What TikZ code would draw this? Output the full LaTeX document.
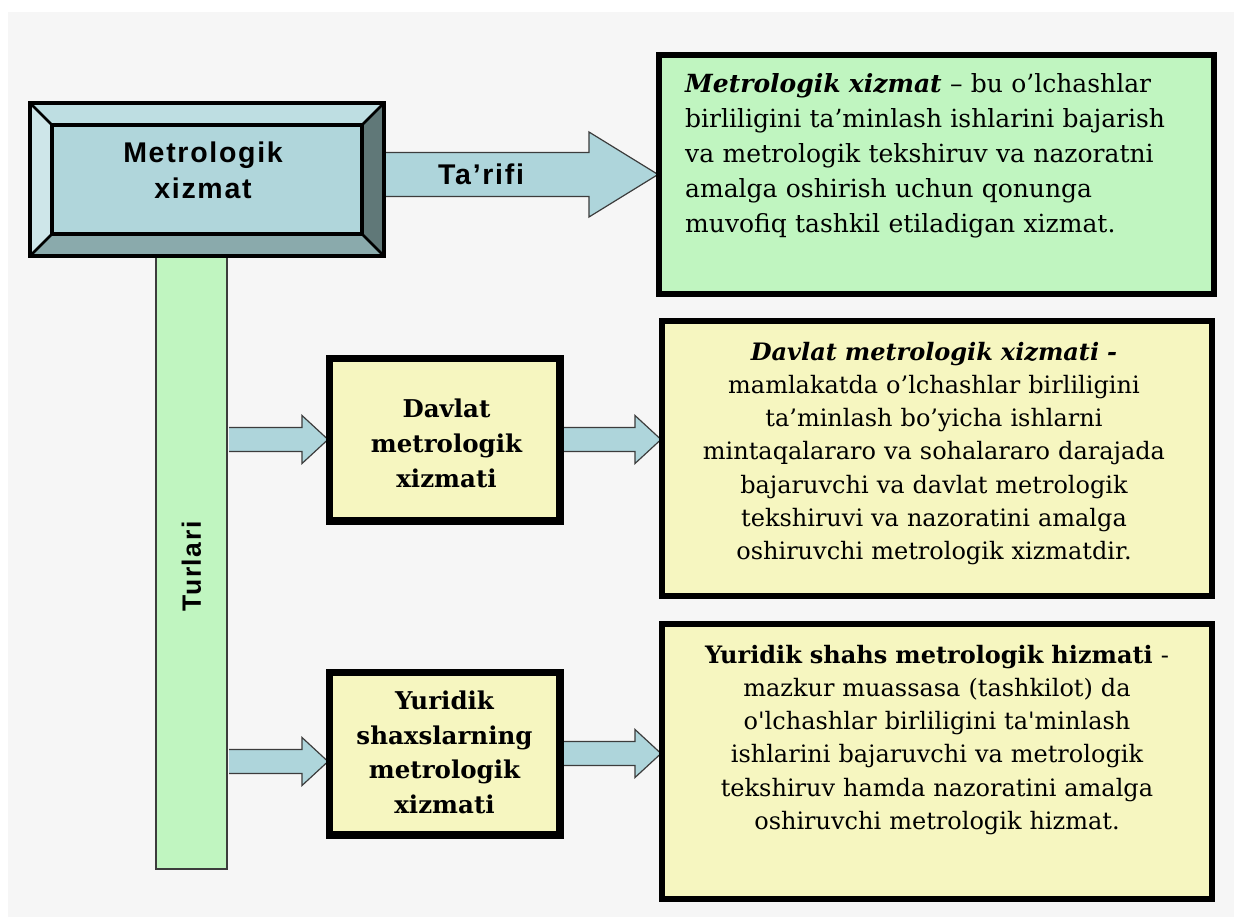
\documentclass[tikz,border=0pt]{standalone}
\usepackage{fontspec}
\newfontfamily\deffont{DejaVu Serif}
\newfontfamily\lsans[LetterSpace=6]{Liberation Sans}
\usetikzlibrary{calc}
\definecolor{bg}{RGB}{246,246,246}
\definecolor{facec}{RGB}{176,214,219}
\definecolor{bevtop}{RGB}{190,222,226}
\definecolor{bevleft}{RGB}{206,230,233}
\definecolor{bevright}{RGB}{96,120,120}
\definecolor{bevbot}{RGB}{138,170,172}
\definecolor{greenf}{RGB}{192,245,192}
\definecolor{yellowf}{RGB}{246,246,192}
\definecolor{arrowf}{RGB}{174,213,219}
\definecolor{edgec}{RGB}{60,60,60}
\tikzset{
  bigbox/.style={draw=black, line width=4, rectangle, inner sep=0},
  smallbox/.style={draw=black, line width=5, rectangle, inner sep=0, fill=yellowf, minimum width=228, minimum height=160},
  blockarr/.style={draw=edgec, line width=1.2, fill=arrowf, line join=miter},
  deftext/.style={font=\deffont\fontsize{24}{33.3}\selectfont, inner sep=0},
  boldtext/.style={font=\deffont\bfseries\fontsize{24.5}{35}\selectfont, inner sep=0, align=center, text width=220},
  sanstext/.style={font=\lsans\bfseries\fontsize{28.5}{36}\selectfont, inner sep=0}
}
\begin{document}
\begin{tikzpicture}[x=1pt,y=-1pt]
\useasboundingbox (0,0) rectangle (1234,917);
\fill[white] (0,0) rectangle (1234,917);
\fill[bg] (8,12) rectangle (1234,917);

% nodes (boxes)
\node[rectangle, inner sep=0, minimum width=354, minimum height=153] (main) at (207,179.5) {};
\node[draw=edgec, line width=2, fill=greenf, rectangle, inner sep=0, minimum width=71, minimum height=613] (turlari) at (191.5,562.5) {};
\node[bigbox, fill=greenf, minimum width=553, minimum height=237] (def1) at (936.5,174.5) {};
\node[bigbox, fill=yellowf, minimum width=548, minimum height=273] (def2) at (937,458.5) {};
\node[bigbox, fill=yellowf, minimum width=548, minimum height=273] (def3) at (937,761.5) {};
\node[smallbox] (davlat) at (444.5,439.5) {};
\node[smallbox] (yuridik) at (444.5,753.5) {};

% arrows
\coordinate (ta0) at (main.east |- def1.west);
\draw[blockarr] ($(ta0)+(0,-22)$) -- ($(def1.west)+(-69,-22)$) -- ($(def1.west)+(-69,-42.5)$) -- (def1.west)
  -- ($(def1.west)+(-69,42.5)$) -- ($(def1.west)+(-69,22)$) -- ($(ta0)+(0,22)$);
\coordinate (d0) at (turlari.east |- davlat.west);
\draw[blockarr] ($(d0)+(1,-12)$) -- ($(davlat.west)+(-26,-12)$) -- ($(davlat.west)+(-26,-24)$) -- (davlat.west)
  -- ($(davlat.west)+(-26,24)$) -- ($(davlat.west)+(-26,12)$) -- ($(d0)+(1,12)$);
\coordinate (d1) at (def2.west |- davlat.east);
\draw[blockarr] ($(davlat.east)+(0,-12)$) -- ($(d1)+(-26,-12)$) -- ($(d1)+(-26,-24)$) -- (d1)
  -- ($(d1)+(-26,24)$) -- ($(d1)+(-26,12)$) -- ($(davlat.east)+(0,12)$);
\coordinate (y0) at ($(turlari.east |- yuridik.west)+(1,8)$);
\coordinate (y0t) at ($(yuridik.west)+(0,8)$);
\draw[blockarr] ($(y0)+(0,-12)$) -- ($(y0t)+(-26,-12)$) -- ($(y0t)+(-26,-24)$) -- (y0t)
  -- ($(y0t)+(-26,24)$) -- ($(y0t)+(-26,12)$) -- ($(y0)+(0,12)$);
\coordinate (y1) at (def3.west |- yuridik.east);
\draw[blockarr] ($(yuridik.east)+(0,-12)$) -- ($(y1)+(-26,-12)$) -- ($(y1)+(-26,-24)$) -- (y1)
  -- ($(y1)+(-26,24)$) -- ($(y1)+(-26,12)$) -- ($(yuridik.east)+(0,12)$);

% redraw box borders over arrow ends
\draw[black, line width=4] (def1.north west) rectangle (def1.south east);
\draw[black, line width=4] (def2.north west) rectangle (def2.south east);
\draw[black, line width=4] (def3.north west) rectangle (def3.south east);
\draw[black, line width=5] (davlat.north west) rectangle (davlat.south east);
\draw[black, line width=5] (yuridik.north west) rectangle (yuridik.south east);

% bevelled main box
\path (main.north west) ++(22,22) coordinate (iNW);
\path (main.north east) ++(-22,22) coordinate (iNE);
\path (main.south west) ++(22,-22) coordinate (iSW);
\path (main.south east) ++(-22,-22) coordinate (iSE);
\fill[bevtop] (main.north west) -- (main.north east) -- (iNE) -- (iNW) -- cycle;
\fill[bevright] (main.north east) -- (main.south east) -- (iSE) -- (iNE) -- cycle;
\fill[bevbot] (main.south east) -- (main.south west) -- (iSW) -- (iSE) -- cycle;
\fill[bevleft] (main.south west) -- (main.north west) -- (iNW) -- (iSW) -- cycle;
\draw[line width=2.5] (main.north west) -- (iNW) (main.north east) -- (iNE)
  (main.south west) -- (iSW) (main.south east) -- (iSE);
\draw[line width=3.5, fill=facec] (iNW) rectangle (iSE);
\draw[line width=4] (main.north west) rectangle (main.south east);

% texts
\node[sanstext, align=center, text width=300, anchor=base] (maintxt) at ($(main.north)+(-4,60)$) {Metrologik\\xizmat};
\node[sanstext] (tarifi) at ($(ta0)!0.5!(def1.west)+(-40,0)$) {Ta’rifi};
\node[sanstext, font=\lsans\bfseries\fontsize{26.5}{32}\selectfont, rotate=90] (turtxt) at ($(turlari.center)+(0,4)$) {Turlari};

\node[deftext, font=\deffont\fontsize{25}{35}\selectfont, text width=525, align=left, anchor=base west] (def1txt)
  at ($(def1.north west)+(27,39)$)
  {{\bfseries\itshape Metrologik xizmat} – bu o’lchashlar\\
   birliligini ta’minlash ishlarini bajarish\\
   va metrologik tekshiruv va nazoratni\\
   amalga oshirish uchun qonunga\\
   muvofiq tashkil etiladigan xizmat.};
\node[deftext, text width=540, align=center, anchor=base] (def2txt) at ($(def2.north)+(-3,40)$)
  {{\bfseries\itshape Davlat metrologik xizmati -}\\
   mamlakatda o’lchashlar birliligini\\
   ta’minlash bo’yicha ishlarni\\
   mintaqalararo va sohalararo darajada\\
   bajaruvchi va davlat metrologik\\
   tekshiruvi va nazoratini amalga\\
   oshiruvchi metrologik xizmatdir.};
\node[deftext, text width=540, align=center, anchor=base] (def3txt) at ($(def3.north)+(0,40)$)
  {{\bfseries Yuridik shahs metrologik hizmati} -\\
   mazkur muassasa (tashkilot) da\\
   o'lchashlar birliligini ta'minlash\\
   ishlarini bajaruvchi va metrologik\\
   tekshiruv hamda nazoratini amalga\\
   oshiruvchi metrologik hizmat.};
\node[boldtext, anchor=base] (davlattxt) at ($(davlat.north)+(2,60.5)$)
  {Davlat\\metrologik\\xizmati};
\node[boldtext, font=\deffont\bfseries\fontsize{24.5}{34.5}\selectfont, anchor=base] (yuridiktxt) at ($(yuridik.north)+(0,38.5)$)
  {Yuridik\\shaxslarning\\metrologik\\xizmati};
\end{tikzpicture}
\end{document}
